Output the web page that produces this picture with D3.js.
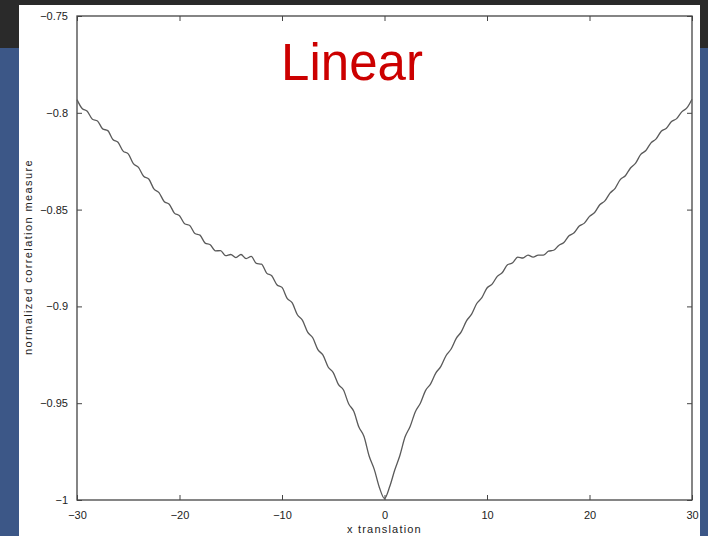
<!DOCTYPE html>
<html>
<head>
<meta charset="utf-8">
<script src="https://cdn.jsdelivr.net/npm/d3@7"></script>
<style>
  html, body { margin: 0; padding: 0; }
  body { width: 708px; height: 536px; overflow: hidden; background: #3c5787; }
  svg { display: block; }
  .tick-label { font-family: "Liberation Sans", Arial, sans-serif; font-size: 11px; fill: #222; }
  .axis-label { font-family: "Liberation Sans", Arial, sans-serif; font-size: 11px; fill: #222; }
</style>
</head>
<body>
<svg width="708" height="536"></svg>
<script>
// x translation (0.5 steps) and the measured correlation values
const xValues = [
  -30, -29.5, -29, -28.5, -28, -27.5, -27, -26.5, -26, -25.5, -25, -24.5, -24, -23.5, -23, -22.5,
  -22, -21.5, -21, -20.5, -20, -19.5, -19, -18.5, -18, -17.5, -17, -16.5, -16, -15.5, -15, -14.5,
  -14, -13.5, -13, -12.5, -12, -11.5, -11, -10.5, -10, -9.5, -9, -8.5, -8, -7.5, -7, -6.5,
  -6, -5.5, -5, -4.5, -4, -3.5, -3, -2.5, -2, -1.5, -1, -0.5, 0,
  0.5, 1, 1.5, 2, 2.5, 3, 3.5, 4, 4.5, 5, 5.5, 6, 6.5, 7, 7.5, 8,
  8.5, 9, 9.5, 10, 10.5, 11, 11.5, 12, 12.5, 13, 13.5, 14, 14.5, 15, 15.5, 16,
  16.5, 17, 17.5, 18, 18.5, 19, 19.5, 20, 20.5, 21, 21.5, 22, 22.5, 23, 23.5, 24,
  24.5, 25, 25.5, 26, 26.5, 27, 27.5, 28, 28.5, 29, 29.5, 30
];
const corrValues = [
  -0.7932, -0.7978, -0.7992, -0.8033, -0.8042, -0.8083, -0.8092, -0.8138, -0.8152, -0.8198, -0.8212, -0.8263, -0.8282, -0.8328, -0.8342, -0.8393,
  -0.8412, -0.8458, -0.8472, -0.8518, -0.8532, -0.8573, -0.8582, -0.8623, -0.8632, -0.8673, -0.8682, -0.8713, -0.8712, -0.8738, -0.8732, -0.8748,
  -0.8732, -0.8753, -0.8742, -0.8778, -0.8782, -0.8828, -0.8842, -0.8888, -0.8902, -0.8958, -0.8982, -0.9043, -0.9072, -0.9133, -0.9162, -0.9223,
  -0.9252, -0.9313, -0.9342, -0.9403, -0.9432, -0.9503, -0.9542, -0.9623, -0.9672, -0.9773, -0.9842, -0.9935, -0.9992,
  -0.9932, -0.9845, -0.9770, -0.9675, -0.9620, -0.9545, -0.9500, -0.9435, -0.9400, -0.9345, -0.9310, -0.9255, -0.9220, -0.9165, -0.9130, -0.9075,
  -0.9040, -0.8985, -0.8955, -0.8905, -0.8885, -0.8845, -0.8825, -0.8785, -0.8775, -0.8745, -0.8750, -0.8735, -0.8745, -0.8735, -0.8735, -0.8715,
  -0.8710, -0.8685, -0.8670, -0.8635, -0.8620, -0.8585, -0.8570, -0.8535, -0.8515, -0.8475, -0.8455, -0.8415, -0.8390, -0.8345, -0.8325, -0.8285,
  -0.8260, -0.8215, -0.8195, -0.8155, -0.8135, -0.8095, -0.8080, -0.8045, -0.8030, -0.7995, -0.7975, -0.7930
];

const xTicks = [-30, -20, -10, 0, 10, 20, 30];
const xTickLabels = ["\u221230", "\u221220", "\u221210", "0", "10", "20", "30"];
const yTicks = [-0.75, -0.8, -0.85, -0.9, -0.95, -1];
const yTickLabels = ["\u22120.75", "\u22120.8", "\u22120.85", "\u22120.9", "\u22120.95", "\u22121"];

const titleText = "Linear";
const xLabel = "x translation";
const yLabel = "normalized correlation measure";

const data = xValues.map((x, i) => ({ x: x, y: corrValues[i] }));

let svg = d3.select("svg");

// slide background: dark strip on top, blue below, white card
svg.append("rect").attr("x", 0).attr("y", 0).attr("width", 708).attr("height", 48).attr("fill", "#2a2a2a");
svg.append("rect").attr("x", 19).attr("y", 5).attr("width", 681).attr("height", 531).attr("fill", "#ffffff");

let margin = { top: 16, left: 77, right: 16, bottom: 36 },
    width = 708 - margin.left - margin.right,
    height = 536 - margin.top - margin.bottom;

let x = d3.scaleLinear().domain([-30, 30]).range([0, width]),
    y = d3.scaleLinear().domain([-1, -0.75]).range([height, 0]);

let g = svg.append("g")
    .attr("transform", "translate(" + margin.left + "," + margin.top + ")");

// matlab style inward ticks on all sides
const tickLen = 5;
let axisBottom = d3.axisBottom(x).tickValues(xTicks).tickSize(-tickLen).tickPadding(tickLen + 6)
    .tickFormat((d, i) => xTickLabels[i]);
let axisTop = d3.axisTop(x).tickValues(xTicks).tickSize(-tickLen).tickFormat("");
let axisLeft = d3.axisLeft(y).tickValues(yTicks).tickSize(-tickLen).tickPadding(tickLen + 4)
    .tickFormat((d, i) => yTickLabels[i]);
let axisRight = d3.axisRight(y).tickValues(yTicks).tickSize(-tickLen).tickFormat("");

function styleAxis(sel) {
    sel.select(".domain").remove();
    sel.selectAll(".tick line").attr("stroke", "#444").attr("stroke-width", 1);
    sel.selectAll(".tick text").attr("class", "tick-label").attr("fill", "#222");
}

g.append("g").attr("transform", "translate(0," + height + ")").call(axisBottom).call(styleAxis);
g.append("g").call(axisTop).call(styleAxis);
g.append("g").call(axisLeft).call(styleAxis);
g.append("g").attr("transform", "translate(" + width + ",0)").call(axisRight).call(styleAxis);

g.selectAll(".tick-label").style("font-family", "'Liberation Sans', Arial, sans-serif").style("font-size", "11px");

// plot box
g.append("rect")
    .attr("width", width)
    .attr("height", height)
    .attr("fill", "none")
    .attr("stroke", "#444")
    .attr("stroke-width", 1.3);

let line = d3.line()
    .curve(d3.curveMonotoneX)
    .x(d => x(d.x))
    .y(d => y(d.y));

g.append("path")
    .datum(data)
    .attr("fill", "none")
    .attr("stroke", "#5a5a5a")
    .attr("stroke-width", 1.3)
    .attr("d", line);

// title
svg.append("text")
    .attr("x", 352)
    .attr("y", 80)
    .attr("text-anchor", "middle")
    .attr("fill", "#cc0000")
    .style("font-family", "'Liberation Sans', Arial, sans-serif")
    .style("font-size", "51px")
    .text(titleText);

// axis labels
svg.append("text")
    .attr("class", "axis-label")
    .attr("x", margin.left + x(0))
    .attr("y", 533)
    .attr("text-anchor", "middle")
    .style("letter-spacing", "1.2px")
    .text(xLabel);

svg.append("text")
    .attr("class", "axis-label")
    .attr("text-anchor", "middle")
    .style("letter-spacing", "1.4px")
    .attr("transform", "translate(" + 32 + "," + 257 + ")rotate(-90)")
    .text(yLabel);
</script>
</body>
</html>
